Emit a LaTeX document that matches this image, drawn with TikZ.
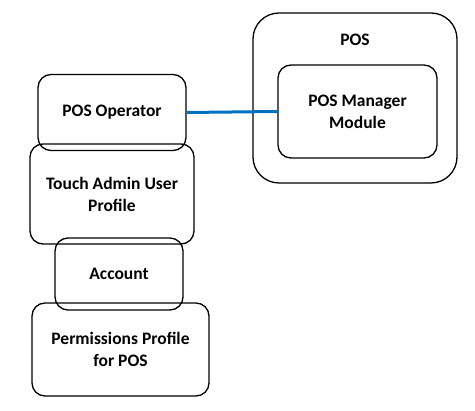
\documentclass[tikz,border=0pt]{standalone}
\usepackage{fontspec}
\setmainfont{Carlito}
\usepackage{xcolor}
\usetikzlibrary{positioning}
\definecolor{linkblue}{RGB}{0,112,192}
\tikzset{
  boxfont/.style={font=\fontsize{17.5}{22}\selectfont\bfseries},
  box/.style={draw, line width=1.3pt, rounded corners=13pt, align=center,
    boxfont, inner sep=0pt},
  link/.style={draw=linkblue, line width=3pt}
}

\begin{document}
\begin{tikzpicture}[x=1pt,y=-1pt]
\useasboundingbox (0,0) rectangle (475,411);
% left column
\node[box, minimum width=148pt, minimum height=76pt] (op) at (112,112.5) {POS Operator};
\node[box, minimum width=164pt, minimum height=100pt] (touch) at (112,194) {Touch Admin User\\Profile};
\node[box, minimum width=128pt, minimum height=72pt] (acct) at (119,274) {Account};
\node[box, minimum width=177pt, minimum height=93pt] (perm) at (120.5,349.5) {Permissions Profile\\for POS};
% POS container
\node[box, rounded corners=26pt, minimum width=204pt, minimum height=170pt] (pos) at (355,98) {};
\node[boxfont] (postitle) at (355,40) {POS};
\node[box, minimum width=159pt, minimum height=93pt] (mgr) at (357.5,111.5) {POS Manager\\Module};
\draw[link] (op.east) -- (mgr.west);
\end{tikzpicture}
\end{document}
